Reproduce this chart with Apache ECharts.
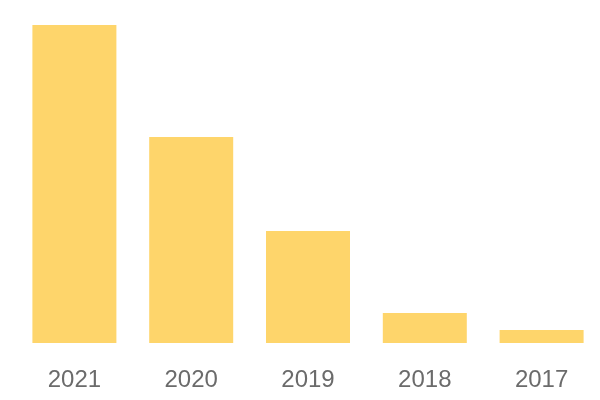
<!DOCTYPE html>
<html>
<head>
<meta charset="utf-8">
<style>html,body{margin:0;padding:0;background:#fff;}#c{width:600px;height:400px;}</style>
<script src="https://cdn.jsdelivr.net/npm/echarts@6/dist/echarts.min.js"></script>
</head>
<body>
<div id="c"></div>
<script>
const years = ['2021', '2020', '2019', '2018', '2017'];
const values = [318, 206, 112, 30, 13];
const yMax = 318;

const chart = echarts.init(document.getElementById('c'), null, {renderer: 'canvas'});
chart.setOption({
  animation: false,
  backgroundColor: '#ffffff',
  grid: {left: 16, right: -1, top: 25, bottom: 57, containLabel: false},
  xAxis: {
    type: 'category',
    data: years,
    axisLine: {show: false},
    axisTick: {show: false},
    axisLabel: {color: '#6b6b6b', fontSize: 24, fontFamily: 'Liberation Sans', margin: 25}
  },
  yAxis: {
    type: 'value',
    min: 0,
    max: yMax,
    show: false,
    splitLine: {show: false}
  },
  series: [{
    type: 'bar',
    data: values,
    barWidth: 84,
    itemStyle: {color: '#FED56B'}
  }]
});
</script>
</body>
</html>
